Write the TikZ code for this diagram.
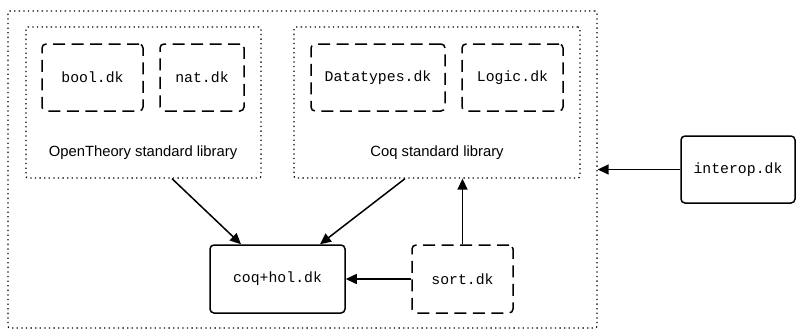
\documentclass[tikz,border=0pt]{standalone}
\usepackage{fontspec}
\setmainfont{Liberation Sans}
\setmonofont{Liberation Mono}
\usetikzlibrary{arrows.meta}
\begin{document}
\begin{tikzpicture}[x=1pt,y=-1pt,
        file/.style={draw, line width=1.5pt, rounded corners=4pt, minimum height=67pt, font=\fontsize{14.8}{17}\selectfont\ttfamily},
        stub/.style={file, dash pattern=on 12pt off 6.5pt},
        lib/.style={draw, line width=1.3pt, dash pattern=on 1.3pt off 3.3pt, rounded corners=2pt, inner sep=0pt},
        libname/.style={font=\fontsize{14.8}{17}\selectfont},
        dep/.style={-{Triangle[length=11pt,width=10pt]}, line width=1.5pt}]
        \useasboundingbox (0,0) rectangle (796,330);
        % libraries
        \node[lib, minimum width=589pt, minimum height=317pt] (all) at (302.5,169.5) {};
        \node[lib, minimum width=235pt, minimum height=151pt] (ot) at (143.5,102.5) {};
        \node[lib, minimum width=286pt, minimum height=151pt] (coq) at (437,102.5) {};
        \node[libname] (otname) at (143,153) {OpenTheory standard library};
        \node[libname] (coqname) at (437,153) {Coq standard library};
        \node[stub, minimum width=101pt] (bool) at (92.5,77.5) {bool.dk};
        \node[stub, minimum width=84pt] (nat) at (202,77.5) {nat.dk};
        \node[stub, minimum width=134pt] (datatypes) at (378,77.5) {Datatypes.dk};
        \node[stub, minimum width=101pt] (logic) at (512.5,77.5) {Logic.dk};
        % bridge files
        \node[file, minimum width=135pt, minimum height=68pt] (coqhol) at (277.5,279) {coq+hol.dk};
        \node[stub, minimum width=101pt, minimum height=68pt] (sort) at (462.5,279) {sort.dk};
        \node[file, minimum width=114pt] (interop) at (738,169.5) {interop.dk};
        % dependencies
        \draw[dep] ([xshift=28.5pt]ot.south) -- ([xshift=-36.5pt]coqhol.north);
        \draw[dep] ([xshift=-32pt]coq.south) -- ([xshift=42.5pt]coqhol.north);
        \draw[dep] (sort.north) -- (sort.north |- coq.south);
        \draw[dep] (sort.west) -- (coqhol.east);
        \draw[dep] (interop.west) -- (interop.west -| all.east);
\end{tikzpicture}
\end{document}
